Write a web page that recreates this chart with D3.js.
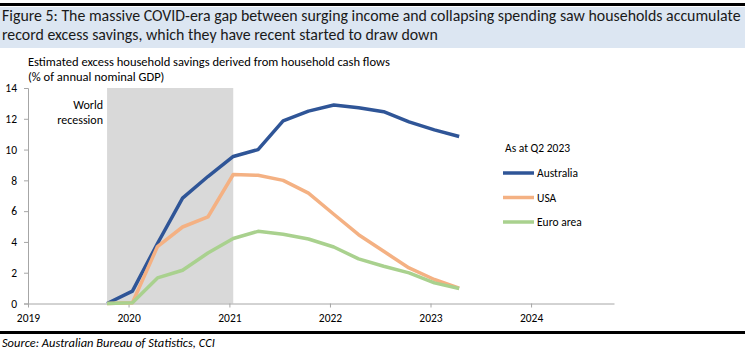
<!DOCTYPE html>
<html>
<head>
<meta charset="utf-8">
<script src="https://cdn.jsdelivr.net/npm/d3@7"></script>
<style>
  html, body { margin: 0; padding: 0; background: #fff; }
  svg { display: block; }
  text { font-family: Carlito, "Liberation Sans Narrow", "Open Sans", sans-serif; }
</style>
</head>
<body>
<svg id="chart" width="745" height="358"></svg>
<script>
// ---- Data ----
const quarters = ["2019-10-15","2020-01-15","2020-04-15","2020-07-15","2020-10-15",
  "2021-01-15","2021-04-15","2021-07-15","2021-10-15","2022-01-15","2022-04-15",
  "2022-07-15","2022-10-15","2023-01-15","2023-04-15"];
const australia = [0, 0.8, 3.9, 6.85, 8.25, 9.55, 10.0, 11.86, 12.5, 12.9, 12.72, 12.46, 11.8, 11.28, 10.85];
const usa       = [0, 0.05, 3.7, 4.97, 5.62, 8.38, 8.33, 8.0, 7.17, 5.8, 4.47, 3.39, 2.31, 1.56, 1.0];
const euroArea  = [0, 0.05, 1.66, 2.16, 3.28, 4.22, 4.69, 4.5, 4.19, 3.67, 2.9, 2.42, 1.99, 1.34, 0.97];
const seriesNames = ["Australia", "USA", "Euro area"];
const yTicks = [0, 2, 4, 6, 8, 10, 12, 14];
const xTickYears = ["2019","2020","2021","2022","2023","2024"];
const recession = ["2019-10-15", "2021-01-15"];
const titleLines = ["Figure 5: The massive COVID-era gap between surging income and collapsing spending saw households accumulate",
                    "record excess savings, which they have recent started to draw down"];
const subtitleLines = ["Estimated excess household savings derived from household cash flows", "(% of annual nominal GDP)"];
const legendTitle = "As at Q2 2023";
const recessionLabel = ["World", "recession"];
const sourceText = "Source: Australian Bureau of Statistics, CCI";

const colors = ["#2f5597", "#f4b183", "#a9d18e"];
const parse = d3.timeParse("%Y-%m-%d");

const svg = d3.select("#chart");

// fit a group of text lines so the first line spans targetWidth
function fitLines(sel, baseSize, targetWidth) {
  const first = sel.nodes()[0];
  const w = first.getComputedTextLength();
  const size = baseSize * targetWidth / w;
  sel.attr("font-size", size);
}

// Header
svg.append("rect").attr("x", 0).attr("y", 3).attr("width", 745).attr("height", 3).attr("fill", "#000");
svg.append("rect").attr("x", 0).attr("y", 7).attr("width", 745).attr("height", 41).attr("fill", "#dce6f2");
const tl = svg.selectAll(".title").data(titleLines).enter().append("text").attr("class", "title")
  .attr("x", 2).attr("y", (d, i) => 21 + i * 19).attr("font-size", 15.5).attr("fill", "#1a1a1a").text(d => d);
fitLines(tl, 15.5, 739);
const sl = svg.selectAll(".sub").data(subtitleLines).enter().append("text").attr("class", "sub")
  .attr("x", 28).attr("y", (d, i) => 66 + i * 14.5).attr("font-size", 11.5).attr("fill", "#000").text(d => d);
fitLines(sl, 11.5, 362);

// Scales
const x = d3.scaleTime().domain([parse("2019-01-01"), parse("2024-10-28")]).range([28, 614]);
const y = d3.scaleLinear().domain([0, 14]).range([303.5, 88]);

// Recession band
svg.append("rect")
  .attr("x", x(parse(recession[0]))).attr("y", y(14))
  .attr("width", x(parse(recession[1])) - x(parse(recession[0])))
  .attr("height", y(0) - y(14))
  .attr("fill", "#d9d9d9");
recessionLabel.forEach((t, i) => {
  svg.append("text").attr("x", 103).attr("y", 109 + i * 15).attr("text-anchor", "end")
    .attr("font-size", 12).attr("fill", "#000").text(t);
});

// Axes
const yAxis = d3.axisLeft(y).tickValues(yTicks).tickSize(4).tickPadding(7);
const gy = svg.append("g").attr("transform", "translate(28,0)").call(yAxis);
gy.select(".domain").attr("stroke", "#a6a6a6");
gy.selectAll(".tick line").attr("stroke", "#a6a6a6");
gy.selectAll(".tick text").attr("font-size", 11.5).attr("fill", "#000")
  .style("font-family", 'Carlito, "Liberation Sans Narrow", "Open Sans", sans-serif');

const xAxis = d3.axisBottom(x).tickValues(xTickYears.map(s => parse(s + "-01-01")))
  .tickFormat(d3.timeFormat("%Y")).tickSize(4).tickSizeOuter(0).tickPadding(6);
const gx = svg.append("g").attr("transform", `translate(0,${y(0)})`).call(xAxis);
gx.select(".domain").attr("stroke", "#a6a6a6");
gx.selectAll(".tick line").attr("stroke", "#a6a6a6");
gx.selectAll(".tick text").attr("font-size", 11.5).attr("fill", "#000")
  .style("font-family", 'Carlito, "Liberation Sans Narrow", "Open Sans", sans-serif');

// Lines
const line = d3.line().x((d, i) => x(parse(quarters[i]))).y(d => y(d));
[australia, usa, euroArea].forEach((s, k) => {
  svg.append("path").datum(s).attr("d", line)
    .attr("fill", "none").attr("stroke", colors[k]).attr("stroke-width", 3.5)
    .attr("stroke-linejoin", "round").attr("stroke-linecap", "butt");
});

// Legend
svg.append("text").attr("x", 505).attr("y", 152).attr("font-size", 11.5).attr("fill", "#000").text(legendTitle);
seriesNames.forEach((n, k) => {
  const ly = 173 + k * 24.5;
  svg.append("line").attr("x1", 503).attr("x2", 534).attr("y1", ly).attr("y2", ly)
    .attr("stroke", colors[k]).attr("stroke-width", 3.5);
  svg.append("text").attr("x", 537).attr("y", ly + 4).attr("font-size", 11.5).attr("fill", "#000").text(n);
});

// Footer
svg.append("rect").attr("x", 0).attr("y", 331).attr("width", 745).attr("height", 3).attr("fill", "#000");
const src = svg.selectAll(".src").data([sourceText]).enter().append("text").attr("class", "src")
  .attr("x", 2).attr("y", 347).attr("font-size", 11.5).attr("font-style", "italic")
  .attr("fill", "#000").text(d => d);
fitLines(src, 11.5, 213);
</script>
</body>
</html>
